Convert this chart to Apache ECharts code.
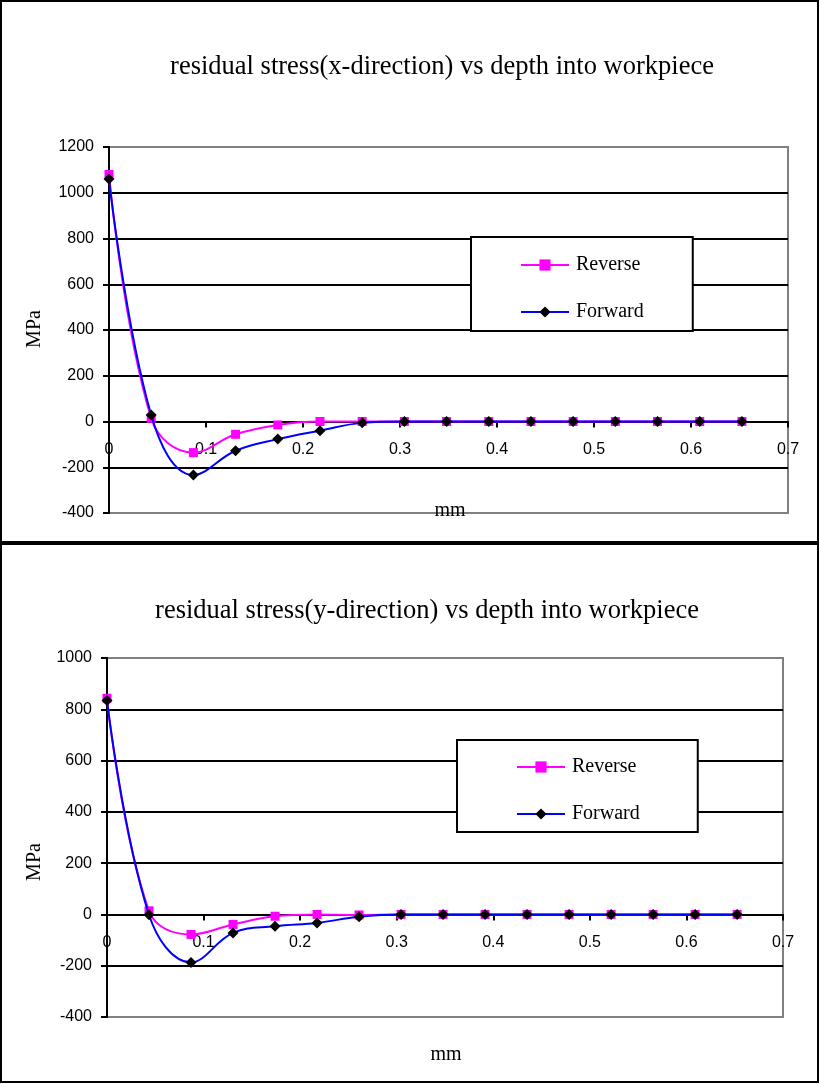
<!DOCTYPE html>
<html>
<head>
<meta charset="utf-8">
<script src="https://cdn.jsdelivr.net/npm/echarts@6/dist/echarts.min.js"></script>
<style>
  html, body { margin: 0; padding: 0; background: #fff; }
  #chart { width: 820px; height: 1084px; }
</style>
</head>
<body>
<div id="chart"></div>
<script>
// Depth into workpiece (mm), shared by every series
const depth = [0, 0.0435, 0.087, 0.1305, 0.174, 0.2175, 0.261, 0.3045,
               0.348, 0.3915, 0.435, 0.4785, 0.522, 0.5655, 0.609, 0.6525];

// Residual stress, x-direction (MPa)
const xReverse = [1080, 14, -136, -56, -15, 0, 0, 0, 0, 0, 0, 0, 0, 0, 0, 0];
const xForward = [1060, 28, -234, -128, -77, -40, -6, 0, 0, 0, 0, 0, 0, 0, 0, 0];

// Residual stress, y-direction (MPa)
const yReverse = [843, 14, -78, -39, -7, 0, -2, 0, 0, 0, 0, 0, 0, 0, 0, 0];
const yForward = [834, -1, -187, -72, -46, -33, -9, 0, 0, 0, 0, 0, 0, 0, 0, 0];

// Axis ranges
const depthRange = [0, 0.7];
const stressRangeX = [-400, 1200];
const stressRangeY = [-400, 1000];

const titles = [
  'residual stress(x-direction) vs depth into workpiece',
  'residual stress(y-direction) vs depth into workpiece'
];
const seriesNames = ['Reverse', 'Forward'];

const SERIF = '"Liberation Serif", "Times New Roman", serif';
const SANS = '"Liberation Sans", Arial, sans-serif';

const grids = [
  { left: 109, top: 147, width: 679, height: 366 },
  { left: 107, top: 658, width: 676, height: 359 }
];

const pairs = (vals) => depth.map((d, i) => [d, vals[i]]);

// The depth axis crosses the stress axis at 0 MPa, labels sit under that line
function xAxisFor(gridIndex, stressRange) {
  const h = grids[gridIndex].height;
  const zeroUp = h * (0 - stressRange[0]) / (stressRange[1] - stressRange[0]);
  return {
    type: 'value', gridIndex: gridIndex, position: 'bottom',
    offset: -zeroUp,
    min: depthRange[0], max: depthRange[1], interval: 0.1,
    axisLine: { show: true, onZero: false, lineStyle: { color: '#000', width: 2 } },
    axisTick: { show: true, inside: false, length: 6, lineStyle: { color: '#000', width: 2 } },
    axisLabel: { margin: 20, color: '#000', fontFamily: SANS, fontSize: 16,
                 showMinLabel: true, showMaxLabel: true,
                 formatter: (v) => String(Math.round(v * 10) / 10) },
    splitLine: { show: false }
  };
}

function yAxisFor(gridIndex, stressRange) {
  return {
    type: 'value', gridIndex: gridIndex,
    min: stressRange[0], max: stressRange[1], interval: 200,
    axisLine: { show: true, onZero: false, lineStyle: { color: '#000', width: 2 } },
    axisTick: { show: true, inside: false, length: 6, lineStyle: { color: '#000', width: 2 } },
    axisLabel: { margin: 15, color: '#000', fontFamily: SANS, fontSize: 16,
                 formatter: (v) => String(v) },
    splitLine: { show: true, showMinLine: false, showMaxLine: false,
                 lineStyle: { color: '#000', width: 2 } }
  };
}

function seriesFor(gridIndex, reverse, forward) {
  return [
    {
      name: seriesNames[0], type: 'line', xAxisIndex: gridIndex, yAxisIndex: gridIndex,
      data: pairs(reverse), smooth: 0.4,
      symbol: 'rect', symbolSize: 9,
      lineStyle: { color: '#ff00ff', width: 2 },
      itemStyle: { color: '#ff00ff' },
      z: 3
    },
    {
      name: seriesNames[1], type: 'line', xAxisIndex: gridIndex, yAxisIndex: gridIndex,
      data: pairs(forward), smooth: 0.4,
      symbol: 'diamond', symbolSize: 11,
      lineStyle: { color: '#0000ff', width: 2 },
      itemStyle: { color: '#000' },
      z: 4
    }
  ];
}

function legendFor(left, top, padding) {
  return {
    data: seriesNames, orient: 'vertical', left: left, top: top,
    padding: padding, itemGap: 27, itemWidth: 48, itemHeight: 14,
    backgroundColor: '#fff', borderColor: '#000', borderWidth: 2, borderRadius: 0,
    selectedMode: false,
    textStyle: { fontFamily: SERIF, fontSize: 20, color: '#000', padding: [0, 0, 0, 2] }
  };
}

const titleStyle = { fontFamily: SERIF, fontSize: 26.5, fontWeight: 'normal', color: '#000' };

const chart = echarts.init(document.getElementById('chart'), null, { renderer: 'canvas' });

chart.setOption({
  backgroundColor: '#fff',
  animation: false,
  title: [
    { text: titles[0], left: 437, top: 49, textAlign: 'center', textStyle: titleStyle },
    { text: titles[1], left: 422, top: 593, textAlign: 'center', textStyle: titleStyle }
  ],
  legend: [
    legendFor(471, 237, [18, 49, 9, 49]),
    legendFor(457, 740, [17, 58, 8, 59])
  ],
  grid: grids.map((g) => Object.assign({ show: true, borderColor: '#808080', borderWidth: 2,
                                          backgroundColor: 'transparent' }, g)),
  xAxis: [xAxisFor(0, stressRangeX), xAxisFor(1, stressRangeY)],
  yAxis: [yAxisFor(0, stressRangeX), yAxisFor(1, stressRangeY)],
  series: [].concat(seriesFor(0, xReverse, xForward), seriesFor(1, yReverse, yForward)),
  graphic: [
    // panel frames
    { type: 'rect', shape: { x: 1, y: 1, width: 817, height: 541 },
      style: { fill: null, stroke: '#000', lineWidth: 2 }, z: 100 },
    { type: 'rect', shape: { x: 1, y: 544, width: 817, height: 538 },
      style: { fill: null, stroke: '#000', lineWidth: 2 }, z: 100 },
    // axis names
    { type: 'text', x: 35, y: 329, rotation: Math.PI / 2,
      style: { text: 'MPa', fontFamily: SERIF, fontSize: 20, fill: '#000',
               align: 'center', verticalAlign: 'middle' }, z: 100 },
    { type: 'text', x: 35, y: 862, rotation: Math.PI / 2,
      style: { text: 'MPa', fontFamily: SERIF, fontSize: 20, fill: '#000',
               align: 'center', verticalAlign: 'middle' }, z: 100 },
    { type: 'text', x: 450, y: 511,
      style: { text: 'mm', fontFamily: SERIF, fontSize: 20, fill: '#000',
               align: 'center', verticalAlign: 'middle' }, z: 100 },
    { type: 'text', x: 446, y: 1055,
      style: { text: 'mm', fontFamily: SERIF, fontSize: 20, fill: '#000',
               align: 'center', verticalAlign: 'middle' }, z: 100 }
  ]
});
</script>
</body>
</html>
